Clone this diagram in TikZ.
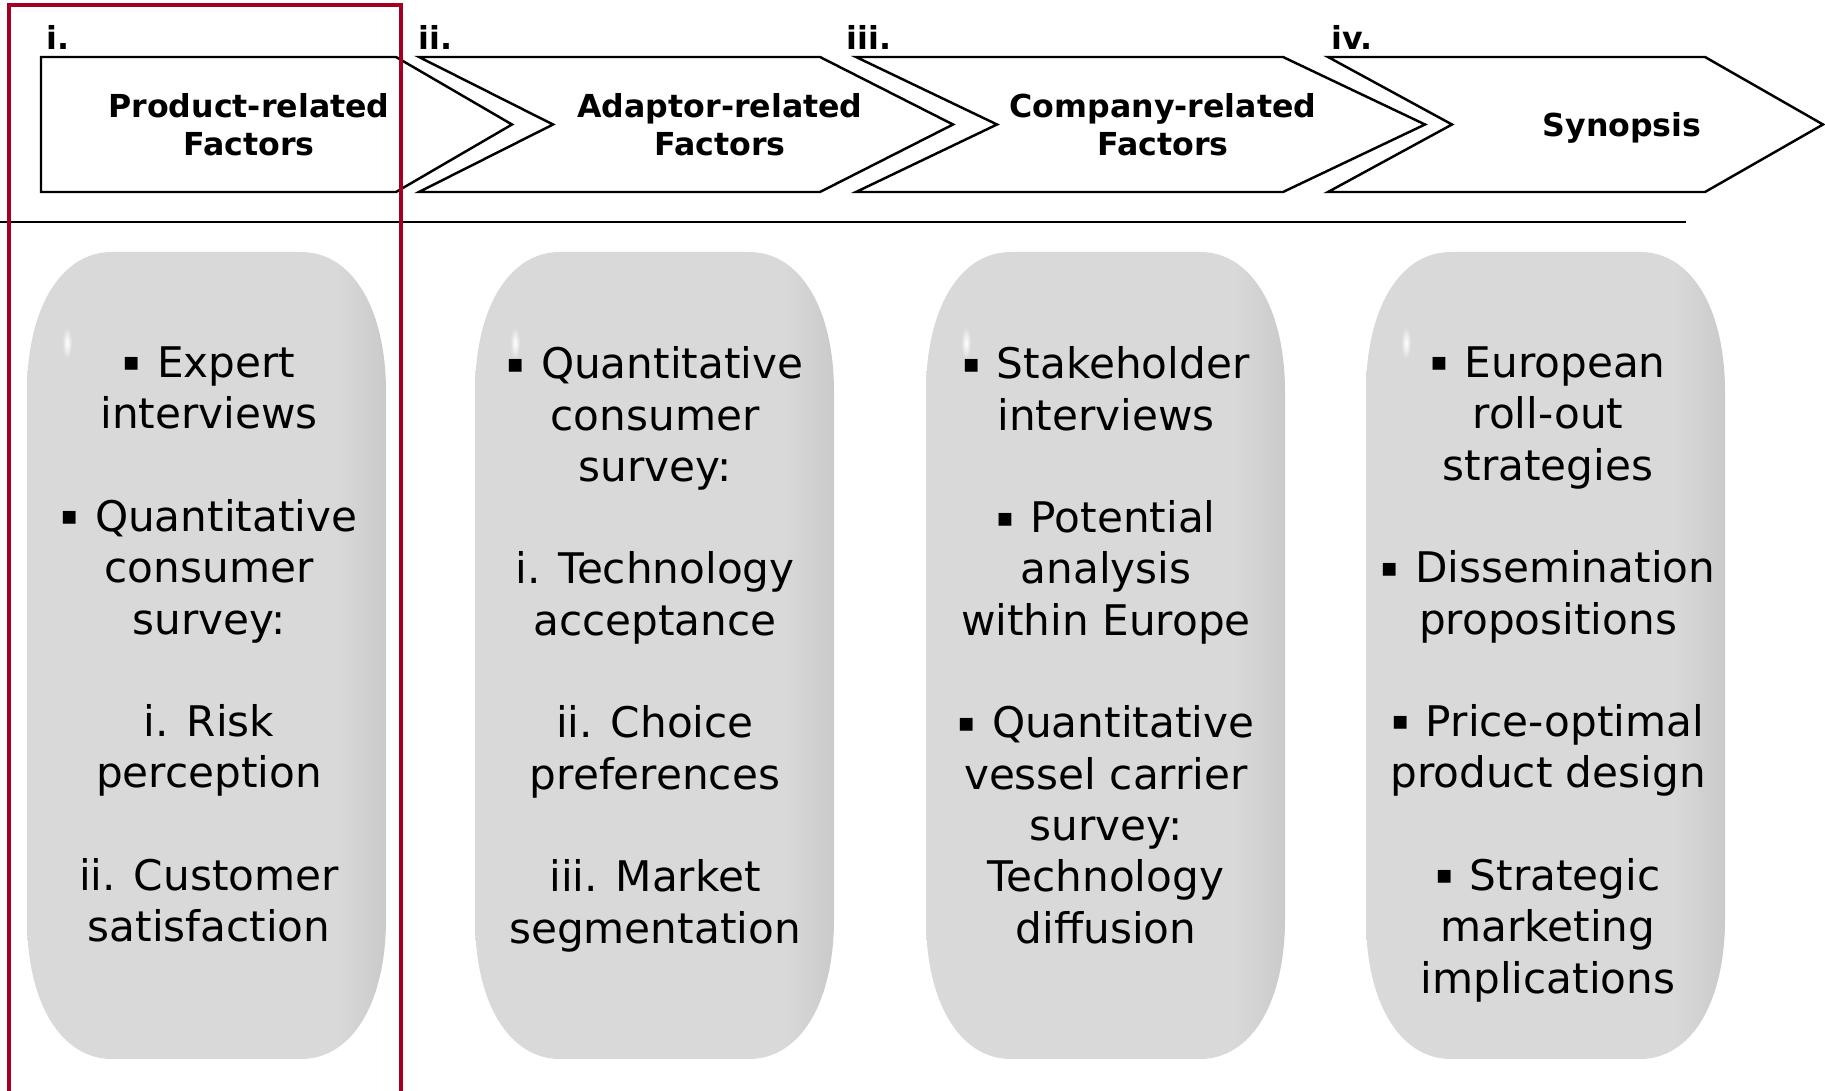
\documentclass[tikz,border=0pt]{standalone}
\usepackage{fontspec}
\setmainfont{DejaVu Sans}
\tikzset{
  chevron/.style={draw=black, fill=white, line width=0.7pt, line join=miter},
  rule-line/.style={line width=0.7pt},
  red-frame/.style={draw=framered, line width=1.1pt},
  pill/.style={shading=pill-shade},
  pill-gloss/.style={inner color=white, outer color=pillgray},
  head-text/.style={align=center, inner sep=0pt, font=\bfseries\fontsize{9}{10.9}\selectfont},
  num-label/.style={anchor=base west, inner sep=0pt, font=\bfseries\fontsize{9}{10.9}\selectfont},
  pill-text/.style={anchor=north, align=center, inner sep=0pt, font=\fontsize{12}{14.6}\selectfont}
}
\definecolor{pillgray}{RGB}{217,217,217}
\definecolor{pilledge}{RGB}{202,202,202}
\definecolor{framered}{RGB}{165,0,33}
\pgfdeclarehorizontalshading{pill-shade}{100bp}{color(0bp)=(pillgray); color(25bp)=(pillgray); color(68bp)=(pillgray); color(75bp)=(pilledge); color(100bp)=(pilledge)}
\newcommand{\sqbullet}{\raisebox{1.9pt}{\fontsize{7.3}{7.3}\selectfont ▪}\hspace{1pt}\ }
\newcommand{\pill}[1]{% #1 = left edge
  \shade[pill] (#1+85,252) -- (#1+274,252)
    .. controls (#1+325,252) and (#1+359,308) .. (#1+359,392)
    -- (#1+359,919)
    .. controls (#1+359,1003) and (#1+325,1059) .. (#1+274,1059)
    -- (#1+85,1059)
    .. controls (#1+34,1059) and (#1,1003) .. (#1,919)
    -- (#1,392)
    .. controls (#1,308) and (#1+34,252) .. (#1+85,252) -- cycle;
  \shade[pill-gloss] (#1+40,343) ellipse [x radius=5, y radius=16];
}

\begin{document}
\begin{tikzpicture}[x=0.1mm, y=-0.1mm]
  \useasboundingbox (0,0) rectangle (1825,1091);
  % rounded method boxes
  \foreach \lft in {27,475,926,1366} {
    \pill{\lft}
  }
  \draw[rule-line] (0,222) -- (1686,222);
  % process chevrons
  \draw[chevron] (41,57) -- (396,57) -- (512,124.5) -- (396,192) -- (41,192) -- cycle;
  \foreach \lft/\notch/\rgt/\tip in {419/553/820/953, 856/997/1283/1425, 1328/1452/1705/1823} {
    \draw[chevron] (\lft,57) -- (\rgt,57) -- (\tip,124.5) -- (\rgt,192) -- (\lft,192) -- (\notch,124.5) -- cycle;
  }
  \foreach \x/\txt [count=\i] in {46/i., 418/ii., 846/iii., 1331/iv.} {
    \node[num-label] (num-\i) at (\x,50) {\txt};
  }
  \node[head-text] (product) at (249,125) {Product-related\\Factors};
  \node[head-text] (adaptor) at (720,125) {Adaptor-related\\Factors};
  \node[head-text] (company) at (1163,125) {Company-related\\Factors};
  \node[head-text, anchor=base] (synopsis) at (1622,137) {Synopsis};
  % box contents
  \node[pill-text] (product-list) at (209,346) {\sqbullet Expert\\interviews\\[14.6pt]\sqbullet Quantitative\\consumer\\survey:\\[14.6pt]i. Risk\\perception\\[14.6pt]ii. Customer\\satisfaction};
  \node[pill-text] (adaptor-list) at (655,346) {\sqbullet Quantitative\\consumer\\survey:\\[14.6pt]i. Technology\\acceptance\\[14.6pt]ii. Choice\\preferences\\[14.6pt]iii. Market\\segmentation};
  \node[pill-text] (company-list) at (1106,346) {\sqbullet Stakeholder\\interviews\\[14.6pt]\sqbullet Potential\\analysis\\within Europe\\[14.6pt]\sqbullet Quantitative\\vessel carrier\\survey:\\Technology\\diffusion};
  \node[pill-text] (synopsis-list) at (1548,346) {\sqbullet European\\roll-out\\strategies\\[14.6pt]\sqbullet Dissemination\\propositions\\[14.6pt]\sqbullet Price-optimal\\product design\\[14.6pt]\sqbullet Strategic\\marketing\\implications};
  % focus frame
  \draw[red-frame] (9,1100) -- (9,5) -- (401,5) -- (401,1100);
\end{tikzpicture}
\end{document}
